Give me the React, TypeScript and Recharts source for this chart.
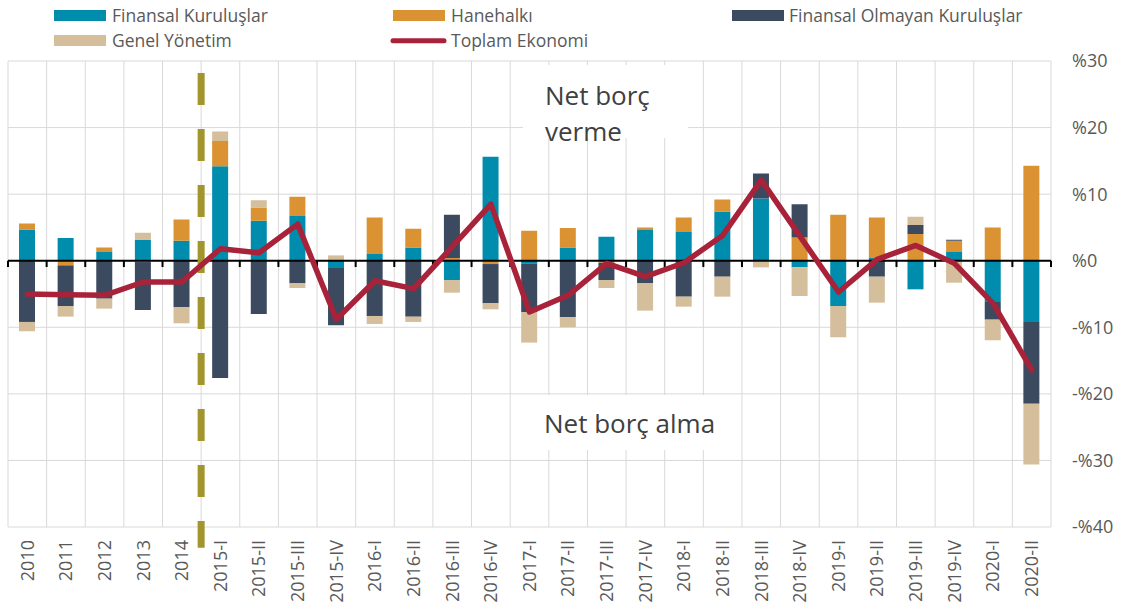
import React from 'react';
import {
  ComposedChart, Bar, Line, XAxis, YAxis, CartesianGrid, ReferenceLine,
} from 'recharts';

const CATEGORIES = ['2010', '2011', '2012', '2013', '2014', '2015-I', '2015-II', '2015-III', '2015-IV',
  '2016-I', '2016-II', '2016-III', '2016-IV', '2017-I', '2017-II', '2017-III', '2017-IV',
  '2018-I', '2018-II', '2018-III', '2018-IV', '2019-I', '2019-II', '2019-III', '2019-IV', '2020-I', '2020-II'];

const FINANSAL = [4.7, 3.4, 1.3, 3.1, 3.0, 14.2, 6.0, 6.7, -1.1, 1.0, 2.0, -2.9, 15.6, -0.4, 2.0, 3.6, 4.6,
  4.3, 7.4, 9.35, -1.0, -6.8, 0.5, -4.3, 1.3, -6.2, -9.2];
const HANEHALKI = [0.9, -0.7, 0.7, -0.2, 3.2, 3.8, 2.0, 2.9, 0, 5.5, 2.8, 0.4, -0.5, 4.5, 2.9, -0.3, 0.4,
  2.2, 1.8, 0, 3.5, 6.9, 6.0, 4.0, 1.7, 5.0, 14.25];
const OLMAYAN = [-9.2, -6.1, -5.7, -7.2, -7.0, -17.6, -8.0, -3.4, -8.6, -8.3, -8.4, 6.5, -5.9, -7.3, -8.5, -2.6, -3.4,
  -5.4, -2.4, 3.75, 5.0, 0, -2.4, 1.35, 0.15, -2.65, -12.3];
const GENEL = [-1.4, -1.6, -1.5, 1.1, -2.4, 1.4, 1.1, -0.7, 0.8, -1.2, -0.8, -1.9, -0.9, -4.6, -1.5, -1.2, -4.1,
  -1.5, -3.0, -1.0, -4.3, -4.7, -3.9, 1.25, -3.3, -3.1, -9.1];
const TOPLAM = [-5.0, -5.1, -5.2, -3.2, -3.2, 1.8, 1.2, 5.5, -8.8, -3.0, -4.2, 2.1, 8.5, -7.7, -5.2, -0.4, -2.4,
  -0.3, 3.8, 12.1, 3.7, -4.7, 0.2, 2.3, -0.4, -6.4, -16.4];

const Y_TICKS = [-40, -30, -20, -10, 0, 10, 20, 30];
const DIVIDER_CATEGORY = '2015-I';
const DIVIDER_TOP = 28.2;
const DIVIDER_BOTTOM = -43.1;
const TICK_DEPTH = -0.95;

const SERIES_NAMES = ['Finansal Kuruluşlar', 'Hanehalkı', 'Finansal Olmayan Kuruluşlar', 'Genel Yönetim', 'Toplam Ekonomi'];

const C_TEAL = '#008CAD';
const C_ORANGE = '#DA9232';
const C_DARK = '#3C4A5F';
const C_TAN = '#D5BE9B';
const C_RED = '#A8223A';
const C_OLIVE = '#A3952E';
const FONT = '"Open Sans", sans-serif';

const data = CATEGORIES.map((cat, i) => ({
  cat,
  fin: FINANSAL[i],
  hane: HANEHALKI[i],
  olm: OLMAYAN[i],
  gen: GENEL[i],
  top: TOPLAM[i],
}));

const fmtY = (v: number) => (v < 0 ? `-%${-v}` : `%${v}`);

const XTick = (props: any) => {
  const { x, y, payload } = props;
  return (
    <g transform={`translate(${x},${y})`}>
      <text transform="rotate(-90)" x={0} y={0} textAnchor="end" dy="0.35em"
        fill="#595959" fontSize={18} fontFamily={FONT}>{payload.value}</text>
    </g>
  );
};

export default function App() {
  const n = CATEGORIES.length;
  const last = CATEGORIES[n - 1];
  return (
    <div style={{ position: 'absolute', left: 0, top: 0, width: 1123, height: 610, background: '#fff' }}>
      <ComposedChart width={1123} height={610} data={data} stackOffset="sign"
        margin={{ top: 61, right: 0, bottom: 0, left: 8 }}>
        <CartesianGrid stroke="#D9D9D9" strokeWidth={1}
          verticalCoordinatesGenerator={({ offset }: any) =>
            [...CATEGORIES.map((_, i) => i), n].map((b) => offset.left + (b * offset.width) / n)} />
        <XAxis dataKey="cat" type="category" interval={0} height={83}
          axisLine={false} tickLine={false} tickSize={0} tickMargin={13} tick={<XTick />} />
        <YAxis orientation="right" width={72} domain={[-40, 30]} ticks={Y_TICKS} allowDataOverflow
          axisLine={false} tickLine={false} tickSize={0} tickMargin={21} tickFormatter={fmtY}
          tick={{ fill: '#595959', fontSize: 18, fontFamily: FONT }} />
        <Bar dataKey="fin" name={SERIES_NAMES[0]} stackId="s" fill={C_TEAL} barSize={16} isAnimationActive={false} />
        <Bar dataKey="hane" name={SERIES_NAMES[1]} stackId="s" fill={C_ORANGE} barSize={16} isAnimationActive={false} />
        <Bar dataKey="olm" name={SERIES_NAMES[2]} stackId="s" fill={C_DARK} barSize={16} isAnimationActive={false} />
        <Bar dataKey="gen" name={SERIES_NAMES[3]} stackId="s" fill={C_TAN} barSize={16} isAnimationActive={false} />
        <ReferenceLine y={0} stroke="#000" strokeWidth={2} />
        {CATEGORIES.map((c) => (
          <ReferenceLine key={`t${c}`} ifOverflow="visible" position="start"
            segment={[{ x: c, y: 0 }, { x: c, y: TICK_DEPTH }]}
            stroke="#000" strokeWidth={2} />
        ))}
        <ReferenceLine key="tend" ifOverflow="visible" position="end"
          segment={[{ x: last, y: 0 }, { x: last, y: TICK_DEPTH }]}
          stroke="#000" strokeWidth={2} />
        <ReferenceLine ifOverflow="visible" position="start"
          segment={[{ x: DIVIDER_CATEGORY, y: DIVIDER_TOP }, { x: DIVIDER_CATEGORY, y: DIVIDER_BOTTOM }]}
          stroke={C_OLIVE} strokeWidth={7} strokeDasharray="32 24" />
        <Line type="linear" dataKey="top" name={SERIES_NAMES[4]} stroke={C_RED} strokeWidth={5.5}
          dot={false} strokeLinejoin="round" strokeLinecap="round" isAnimationActive={false} />
      </ComposedChart>
      <svg width={1123} height={610} style={{ position: 'absolute', left: 0, top: 0, pointerEvents: 'none' }}>
        <rect x={54} y={10} width={52} height={11} fill={C_TEAL} />
        <text x={112} y={21.7} fontSize={17.5} fontFamily={FONT} fill="#595959">{SERIES_NAMES[0]}</text>
        <rect x={393} y={10} width={52} height={11} fill={C_ORANGE} />
        <text x={451} y={21.7} fontSize={17.5} fontFamily={FONT} fill="#595959">{SERIES_NAMES[1]}</text>
        <rect x={732} y={10} width={52} height={11} fill={C_DARK} />
        <text x={789} y={21.7} fontSize={17.5} fontFamily={FONT} fill="#595959">{SERIES_NAMES[2]}</text>
        <rect x={54} y={35} width={52} height={11} fill={C_TAN} />
        <text x={112} y={46.5} fontSize={17.5} fontFamily={FONT} fill="#595959">{SERIES_NAMES[3]}</text>
        <line x1={393} y1={40.7} x2={444} y2={40.7} stroke={C_RED} strokeWidth={5} strokeLinecap="round" />
        <text x={451} y={46.5} fontSize={17.5} fontFamily={FONT} fill="#595959">{SERIES_NAMES[4]}</text>
        <rect x={523} y={65} width={165} height={73} fill="#fff" />
        <text x={545} y={105} fontSize={26} fontFamily={FONT} fill="#404040">Net borç</text>
        <text x={545} y={140.7} fontSize={26} fontFamily={FONT} fill="#404040">verme</text>
        <rect x={520} y={395} width={215} height={55} fill="#fff" />
        <text x={544} y={433} fontSize={26} fontFamily={FONT} fill="#404040">Net borç alma</text>
      </svg>
    </div>
  );
}
